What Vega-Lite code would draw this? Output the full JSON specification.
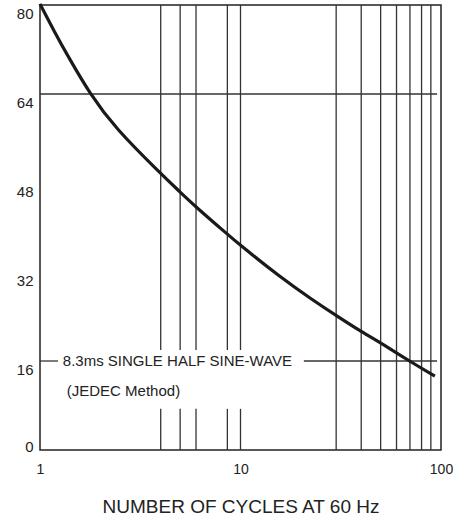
{
  "$schema": "https://vega.github.io/schema/vega-lite/v6.json",
  "width": 401,
  "height": 445,
  "autosize": {"type": "none"},
  "padding": {"left": 40, "top": 5, "right": 19, "bottom": 74},
  "background": "white",
  "config": {
    "view": {"stroke": "#222", "strokeWidth": 1.5},
    "font": "Liberation Sans"
  },
  "datasets": {
    "curve": [
      {"cycles": 1, "amps": 80.2},
      {"cycles": 1.188, "amps": 75.0},
      {"cycles": 1.379, "amps": 70.8},
      {"cycles": 1.776, "amps": 64.0},
      {"cycles": 2.366, "amps": 57.9},
      {"cycles": 3.97, "amps": 49.8},
      {"cycles": 4.99, "amps": 46.4},
      {"cycles": 5.86, "amps": 44.0},
      {"cycles": 8.66, "amps": 38.7},
      {"cycles": 9.83, "amps": 37.0},
      {"cycles": 15.74, "amps": 31.1},
      {"cycles": 22.2, "amps": 27.3},
      {"cycles": 31.4, "amps": 23.7},
      {"cycles": 40.3, "amps": 21.2},
      {"cycles": 50.9, "amps": 19.1},
      {"cycles": 71.6, "amps": 15.7},
      {"cycles": 93.2, "amps": 13.3}
    ],
    "grid": [
      {"x": 30, "x2": 30, "y": 0, "y2": 80},
      {"x": 40, "x2": 40, "y": 0, "y2": 80},
      {"x": 50, "x2": 50, "y": 0, "y2": 80},
      {"x": 60, "x2": 60, "y": 0, "y2": 80},
      {"x": 70, "x2": 70, "y": 0, "y2": 80},
      {"x": 80, "x2": 80, "y": 0, "y2": 80},
      {"x": 89, "x2": 89, "y": 0, "y2": 80},
      {"x": 4, "x2": 4, "y": 0, "y2": 7.4},
      {"x": 4, "x2": 4, "y": 18, "y2": 80},
      {"x": 5, "x2": 5, "y": 0, "y2": 7.4},
      {"x": 5, "x2": 5, "y": 18, "y2": 80},
      {"x": 6, "x2": 6, "y": 0, "y2": 7.4},
      {"x": 6, "x2": 6, "y": 18, "y2": 80},
      {"x": 8.6, "x2": 8.6, "y": 0, "y2": 7.4},
      {"x": 8.6, "x2": 8.6, "y": 18, "y2": 80},
      {"x": 10, "x2": 10, "y": 0, "y2": 7.4},
      {"x": 10, "x2": 10, "y": 18, "y2": 80},
      {"x": 1, "x2": 95.6, "y": 64, "y2": 64},
      {"x": 1, "x2": 1.23, "y": 16, "y2": 16},
      {"x": 20.7, "x2": 95.6, "y": 16, "y2": 16}
    ],
    "notes": [
      {"x": 1.3, "y": 16, "label": "8.3ms SINGLE HALF SINE-WAVE"},
      {"x": 1.36, "y": 10.6, "label": "(JEDEC Method)"}
    ]
  },
  "layer": [
    {
      "data": {"name": "grid"},
      "mark": {"type": "rule", "color": "#333", "strokeWidth": 1.3},
      "encoding": {
        "x": {"field": "x", "type": "quantitative",
              "scale": {"type": "log", "domain": [1, 100]},
              "axis": {"values": [1, 10, 100], "ticks": false, "domain": false, "grid": false,
                       "labelFontSize": 14, "labelColor": "#222", "labelPadding": 12,
                       "labelFlush": false,
                       "title": "NUMBER OF CYCLES AT 60 Hz", "titleFontSize": 19,
                       "titleFontWeight": "normal", "titleColor": "#222", "titlePadding": 21,
                       "format": "d"}},
        "x2": {"field": "x2"},
        "y": {"field": "y", "type": "quantitative",
              "scale": {"domain": [0, 80], "nice": false},
              "axis": {"values": [0, 16, 32, 48, 64, 80], "ticks": false, "domain": false, "grid": false,
                       "labelFontSize": 15, "labelColor": "#222", "labelPadding": 7,
                       "labelFlush": false, "title": null,
                       "labelOffset": {"condition": {"test": "datum.value === 0", "value": -4}, "value": 8}}},
        "y2": {"field": "y2"}
      }
    },
    {
      "data": {"name": "curve"},
      "mark": {"type": "line", "color": "#1a1a1a", "strokeWidth": 3.2, "interpolate": "basis"},
      "encoding": {
        "x": {"field": "cycles", "type": "quantitative"},
        "y": {"field": "amps", "type": "quantitative"}
      }
    },
    {
      "data": {"name": "notes"},
      "mark": {"type": "text", "align": "left", "baseline": "middle", "fontSize": 15, "color": "#222"},
      "encoding": {
        "x": {"field": "x", "type": "quantitative"},
        "y": {"field": "y", "type": "quantitative"},
        "text": {"field": "label"}
      }
    }
  ]
}
